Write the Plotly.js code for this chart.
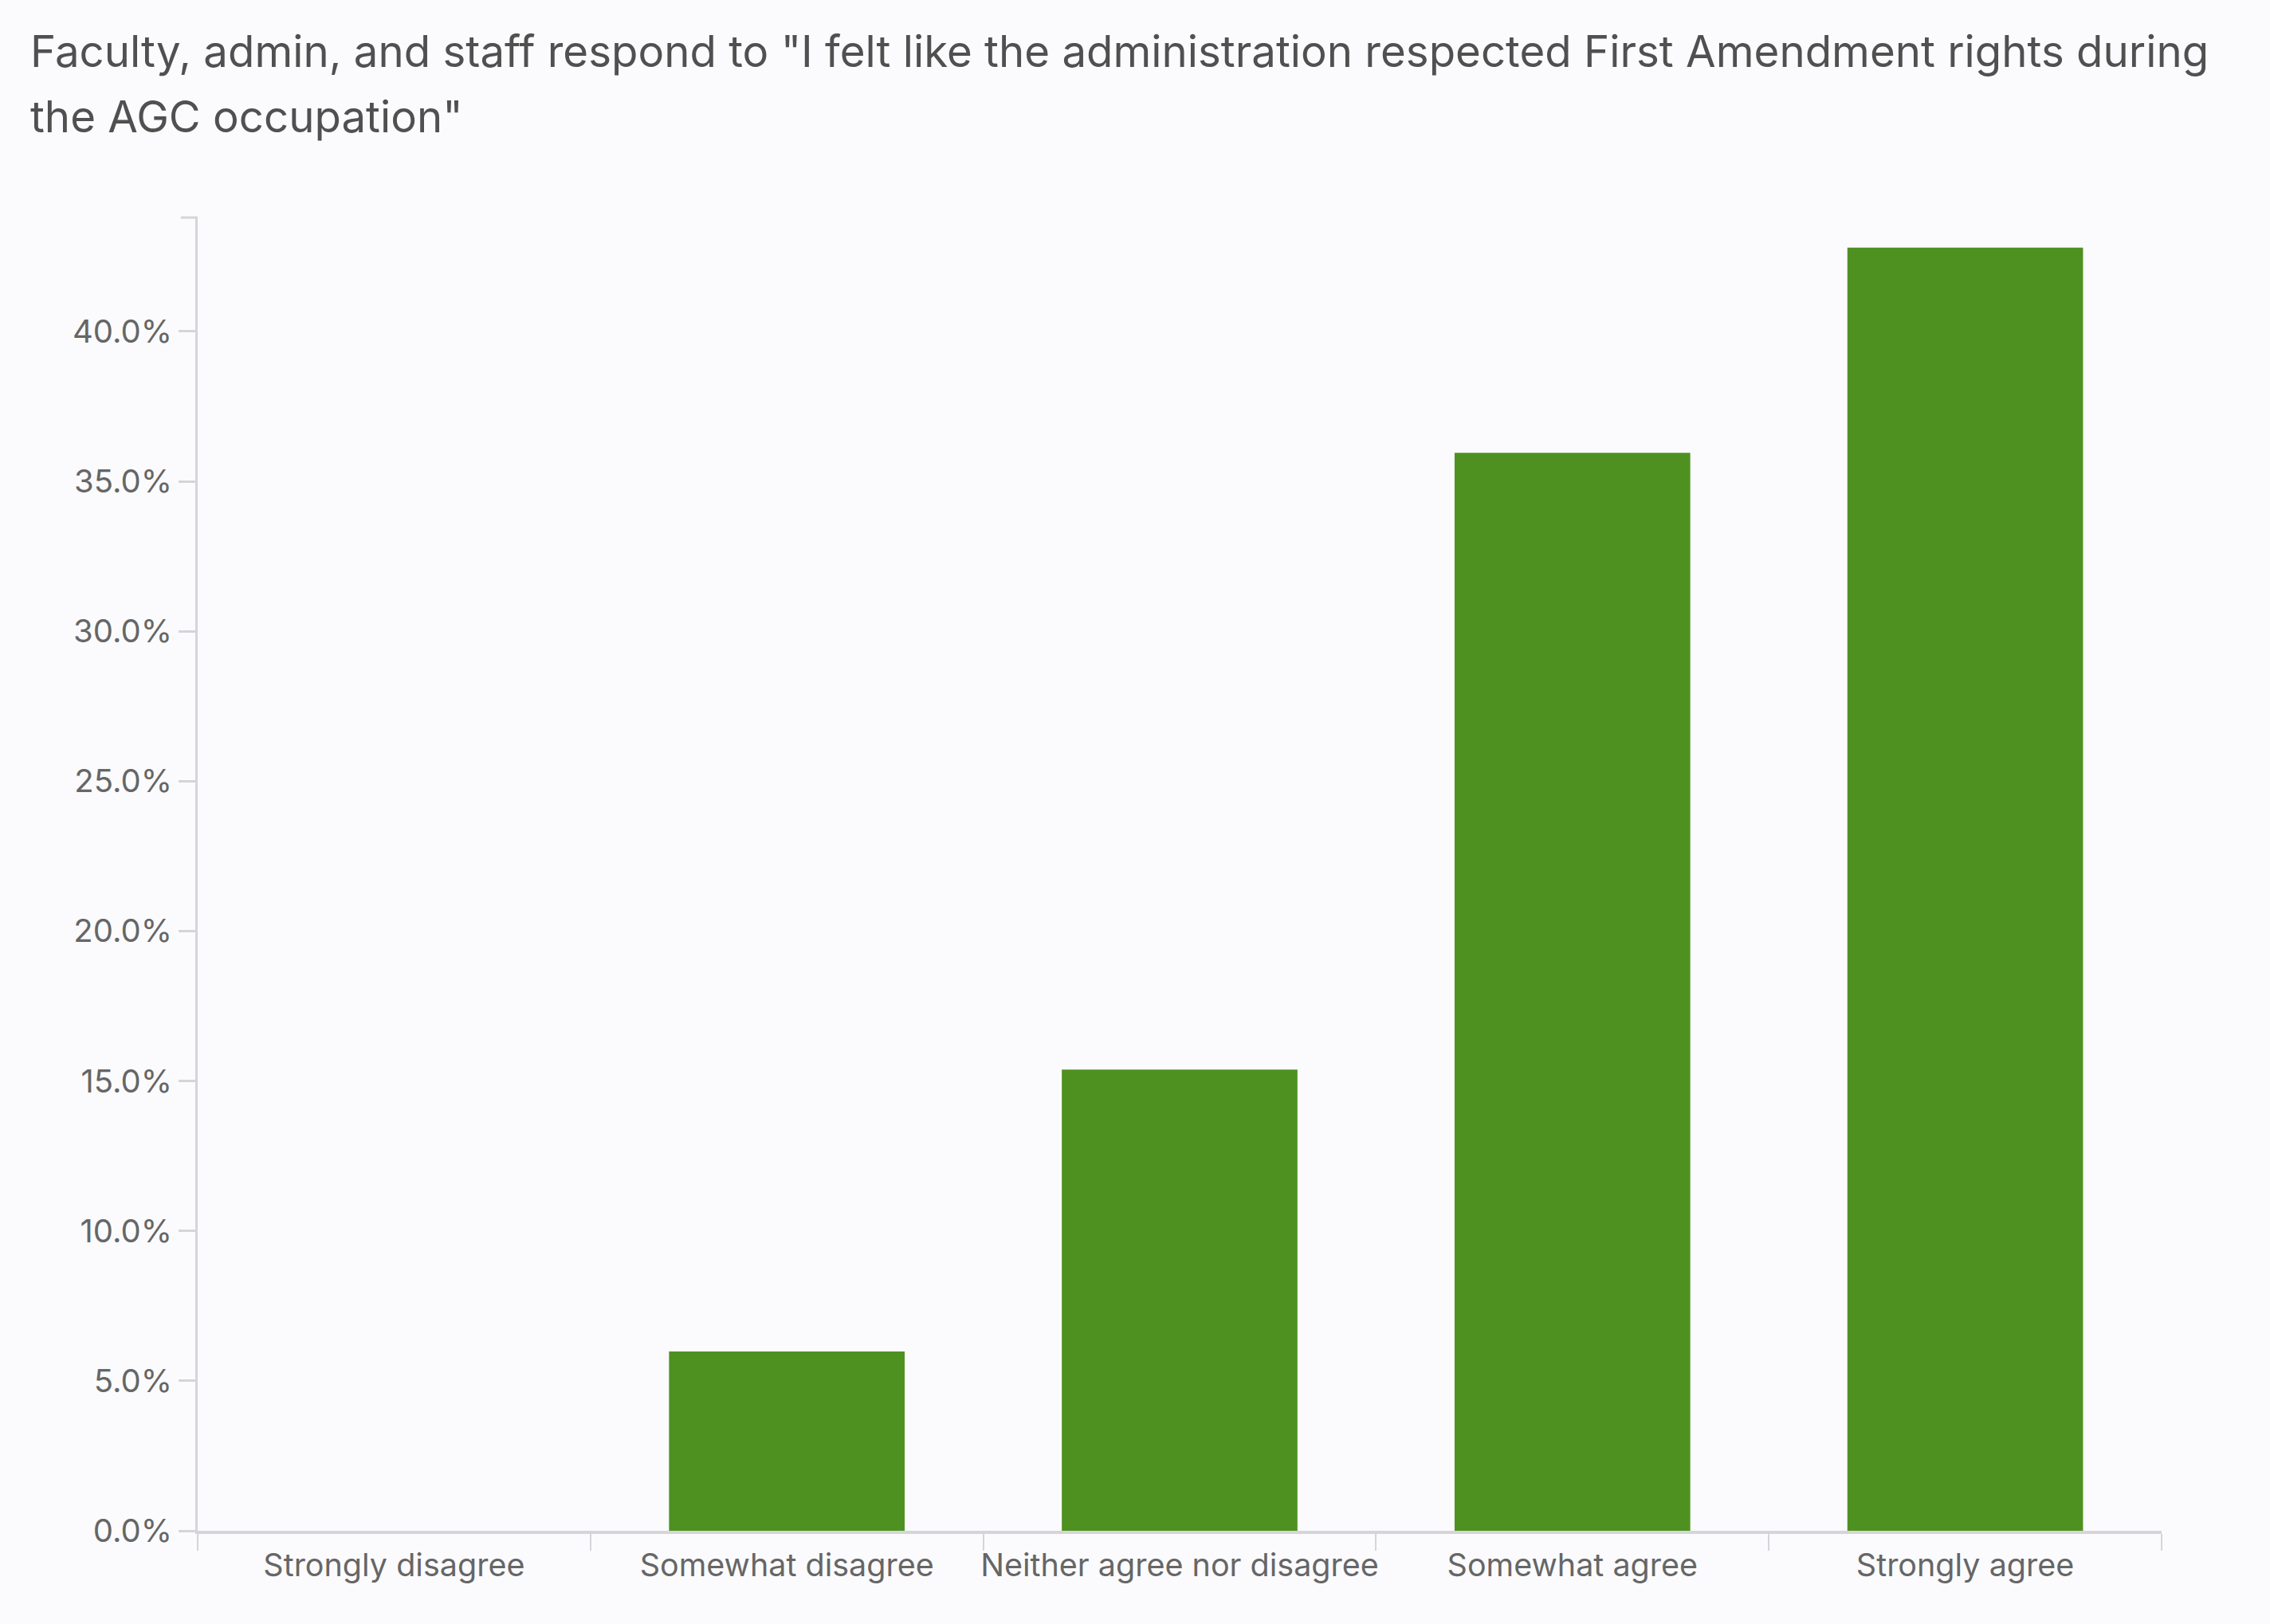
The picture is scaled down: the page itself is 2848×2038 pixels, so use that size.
<!DOCTYPE html>
<html>
<head>
<meta charset="utf-8">
<script src="https://cdn.plot.ly/plotly-3.0.1.min.js"></script>
<style>
  html, body { margin: 0; padding: 0; background: #fbfbfd; }
  #chart { width: 2848px; height: 2038px; }
</style>
</head>
<body>
<div id="chart"></div>
<script>
const categories = ["Strongly disagree", "Somewhat disagree", "Neither agree nor disagree", "Somewhat agree", "Strongly agree"];
const shares = [0, 5.98, 15.38, 35.95, 42.8];
const yTicks = [0, 5, 10, 15, 20, 25, 30, 35, 40];
const titleLines = [
  "Faculty, admin, and staff respond to \"I felt like the administration respected First Amendment rights during",
  "the AGC occupation\"",
];

const axisGrey = "#d5d5d9";
const font = "Inter, 'Open Sans', sans-serif";

// plot area is 2464 x 1648 px; title lines sit above it in paper units
const titleY = [1.1056, 1.0558];

Plotly.newPlot("chart", [{
  type: "bar",
  x: categories,
  y: shares,
  marker: { color: "#4e9121" },
  hoverinfo: "x+y",
}], {
  width: 2848, height: 2038,
  paper_bgcolor: "#fbfbfd", plot_bgcolor: "#fbfbfd",
  font: { family: font, color: "#666" },
  margin: { l: 248, r: 136, t: 273, b: 117 },
  bargap: 0.4,
  showlegend: false,
  annotations: titleLines.map((t, i) => ({
    text: t, showarrow: false,
    xref: "paper", yref: "paper",
    x: -212 / 2464, xanchor: "left",
    y: titleY[i], yanchor: "bottom",
    font: { family: font, size: 54.6, color: "#505050" },
  })),
  xaxis: {
    type: "category",
    showline: true, linecolor: axisGrey, linewidth: 4,
    ticks: "outside", tickson: "boundaries", ticklen: 21, tickwidth: 2, tickcolor: axisGrey,
    tickangle: 0,
    ticklabelstandoff: 6,
    tickfont: { size: 39.5, color: "#666" },
    showgrid: false, zeroline: false,
  },
  yaxis: {
    range: [0, 43.8],
    tickvals: yTicks,
    ticktext: yTicks.map(v => v.toFixed(1) + "%"),
    showline: true, linecolor: axisGrey, linewidth: 3,
    ticks: "outside", ticklen: 21, tickwidth: 3, tickcolor: axisGrey,
    ticklabelstandoff: 0,
    tickfont: { size: 40, color: "#666" },
    showgrid: false, zeroline: false,
  },
  shapes: [{
    type: "line", xref: "paper", yref: "paper",
    x0: -21 / 2464, x1: 0, y0: 1, y1: 1,
    line: { color: axisGrey, width: 3 },
  }],
}, { displayModeBar: false });
</script>
</body>
</html>
